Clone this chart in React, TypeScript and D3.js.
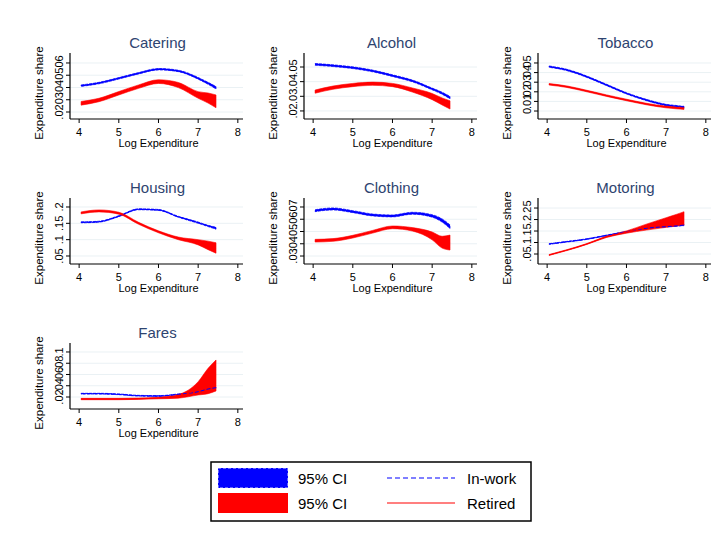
import { useEffect, useRef } from "react";
import * as d3 from "d3";

// log expenditure grid the smoothed curves were read at
const logExp = [4.05, 4.5, 5, 5.5, 6, 6.5, 7, 7.25, 7.45];

const categories = ["Catering", "Alcohol", "Tobacco", "Housing", "Clothing", "Motoring", "Fares"];

// y tick values per panel
const cateringTicks = [0.02, 0.03, 0.04, 0.05, 0.06];
const alcoholTicks = [0.02, 0.03, 0.04, 0.05];
const tobaccoTicks = [0, 0.01, 0.02, 0.03, 0.04, 0.05];
const housingTicks = [0.05, 0.1, 0.15, 0.2];
const clothingTicks = [0.03, 0.04, 0.05, 0.06, 0.07];
const motoringTicks = [0.05, 0.1, 0.15, 0.2, 0.25];
const faresTicks = [0.02, 0.04, 0.06, 0.08, 0.1];

// y axis range per panel
const cateringRange = [0.0143, 0.0665];
const alcoholRange = [0.0145, 0.0582];
const tobaccoRange = [-0.0083, 0.0583];
const housingRange = [0.0255, 0.2214];
const clothingRange = [0.0235, 0.0757];
const motoringRange = [0.0065, 0.285];
const faresRange = [-0.0013, 0.1124];

// 95% CI bounds, in-work households
const cateringWorkLo = [0.0409, 0.043, 0.0469, 0.051, 0.0543, 0.0529, 0.0468, 0.0426, 0.0388];
const cateringWorkHi = [0.0421, 0.0442, 0.0481, 0.0522, 0.0555, 0.0541, 0.0482, 0.0442, 0.0408];
const alcoholWorkLo = [0.0512, 0.0503, 0.0489, 0.0467, 0.0435, 0.0399, 0.0344, 0.0314, 0.0283];
const alcoholWorkHi = [0.0524, 0.0515, 0.0501, 0.0479, 0.0447, 0.0411, 0.0356, 0.0328, 0.0299];
const tobaccoWorkLo = [0.0455, 0.042, 0.035, 0.0264, 0.0177, 0.0108, 0.0056, 0.0044, 0.0035];
const tobaccoWorkHi = [0.0469, 0.0434, 0.0364, 0.0278, 0.0191, 0.0122, 0.007, 0.0058, 0.0049];
const housingWorkLo = [0.1515, 0.1535, 0.1705, 0.1915, 0.1895, 0.1685, 0.15, 0.14, 0.132];
const housingWorkHi = [0.1545, 0.1565, 0.1735, 0.1945, 0.1925, 0.1715, 0.154, 0.144, 0.138];
const clothingWorkLo = [0.0662, 0.0676, 0.0654, 0.0627, 0.0619, 0.0641, 0.0617, 0.0577, 0.0524];
const clothingWorkHi = [0.0678, 0.0692, 0.067, 0.0643, 0.0635, 0.0657, 0.0637, 0.0603, 0.0554];
const motoringWorkLo = [0.092, 0.102, 0.1135, 0.1295, 0.1455, 0.1605, 0.1675, 0.1705, 0.1735];
const motoringWorkHi = [0.095, 0.105, 0.1165, 0.1325, 0.1485, 0.1635, 0.1705, 0.1735, 0.1785];
const faresWorkLo = [0.0252, 0.0252, 0.0241, 0.0216, 0.0211, 0.0241, 0.0286, 0.0333, 0.0355];
const faresWorkHi = [0.0266, 0.0266, 0.0255, 0.023, 0.0225, 0.0255, 0.0302, 0.0351, 0.0377];

// 95% CI bounds, retired households
const cateringRetLo = [0.0256, 0.0284, 0.0339, 0.0393, 0.0433, 0.0399, 0.0312, 0.0273, 0.0235];
const cateringRetHi = [0.0286, 0.0312, 0.0367, 0.0421, 0.0463, 0.0441, 0.0366, 0.0355, 0.0339];
const alcoholRetLo = [0.0321, 0.0348, 0.0366, 0.0375, 0.0366, 0.0329, 0.0277, 0.0241, 0.0213];
const alcoholRetHi = [0.0343, 0.037, 0.0388, 0.0397, 0.0388, 0.0357, 0.0319, 0.0289, 0.0269];
const tobaccoRetLo = [0.027, 0.0245, 0.02, 0.0152, 0.0107, 0.0065, 0.0033, 0.0023, 0.0017];
const tobaccoRetHi = [0.0286, 0.0261, 0.0216, 0.0168, 0.0123, 0.0081, 0.0051, 0.0043, 0.0039];
const housingRetLo = [0.179, 0.185, 0.178, 0.147, 0.121, 0.1, 0.084, 0.0695, 0.0585];
const housingRetHi = [0.185, 0.191, 0.184, 0.153, 0.127, 0.108, 0.1, 0.0955, 0.0905];
const clothingRetLo = [0.0414, 0.042, 0.0447, 0.0487, 0.0523, 0.0504, 0.0432, 0.0365, 0.0349];
const clothingRetHi = [0.0436, 0.0442, 0.0469, 0.0509, 0.0545, 0.0532, 0.0496, 0.0461, 0.0471];
const motoringRetLo = [0.0437, 0.065, 0.0915, 0.122, 0.1405, 0.154, 0.166, 0.172, 0.176];
const motoringRetHi = [0.0477, 0.069, 0.0955, 0.128, 0.1505, 0.18, 0.208, 0.222, 0.234];
const faresRetLo = [0.0152, 0.0152, 0.0152, 0.0158, 0.0168, 0.018, 0.0236, 0.0259, 0.0307];
const faresRetHi = [0.0176, 0.0176, 0.0176, 0.0182, 0.0196, 0.0245, 0.0472, 0.071, 0.0858];

const xTicks = [4, 5, 6, 7, 8];

const panels = [
  { ticks: cateringTicks, range: cateringRange, wLo: cateringWorkLo, wHi: cateringWorkHi, rLo: cateringRetLo, rHi: cateringRetHi },
  { ticks: alcoholTicks, range: alcoholRange, wLo: alcoholWorkLo, wHi: alcoholWorkHi, rLo: alcoholRetLo, rHi: alcoholRetHi },
  { ticks: tobaccoTicks, range: tobaccoRange, wLo: tobaccoWorkLo, wHi: tobaccoWorkHi, rLo: tobaccoRetLo, rHi: tobaccoRetHi },
  { ticks: housingTicks, range: housingRange, wLo: housingWorkLo, wHi: housingWorkHi, rLo: housingRetLo, rHi: housingRetHi },
  { ticks: clothingTicks, range: clothingRange, wLo: clothingWorkLo, wHi: clothingWorkHi, rLo: clothingRetLo, rHi: clothingRetHi },
  { ticks: motoringTicks, range: motoringRange, wLo: motoringWorkLo, wHi: motoringWorkHi, rLo: motoringRetLo, rHi: motoringRetHi },
  { ticks: faresTicks, range: faresRange, wLo: faresWorkLo, wHi: faresWorkHi, rLo: faresRetLo, rHi: faresRetHi },
];

const FONT = "'Liberation Sans', Arial, sans-serif";
const BLUE = "#0000ff";
const RED = "#ff0000";

export default function App() {
  const ref = useRef<SVGSVGElement>(null);

  useEffect(() => {
    const svg = d3.select(ref.current);
    svg.selectAll("*").remove();

    svg.append("rect").attr("width", 725).attr("height", 533).attr("fill", "#fff");

    panels.forEach((p, i) => {
      const col = i % 3;
      const row = Math.floor(i / 3);
      const left = 70 + col * 234;
      const right = left + 173;
      const top = 55 + row * 145;
      const bottom = top + 64;

      const x = d3.scaleLinear().domain([3.77, 8.13]).range([left, right]);
      const y = d3.scaleLinear().domain(p.range).range([bottom, top]);

      const g = svg.append("g");

      // gridlines
      g.selectAll(".grid")
        .data(p.ticks)
        .join("line")
        .attr("x1", left)
        .attr("x2", right)
        .attr("y1", (d) => y(d))
        .attr("y2", (d) => y(d))
        .attr("stroke", "#eaf1f4")
        .attr("stroke-width", 1);

      const band = (lo: number[], hi: number[]) =>
        d3.area<number>()
          .x((d) => x(d))
          .y0((d, j) => y(lo[j]))
          .y1((d, j) => y(hi[j]))
          .curve(d3.curveMonotoneX)(logExp);

      const mid = (lo: number[], hi: number[]) =>
        d3.line<number>()
          .x((d) => x(d))
          .y((d, j) => y((lo[j] + hi[j]) / 2))
          .curve(d3.curveMonotoneX)(logExp);

      g.append("path")
        .attr("d", band(p.wLo, p.wHi))
        .attr("fill", BLUE)
        .attr("stroke", BLUE)
        .attr("stroke-width", 0.7)
        .attr("stroke-dasharray", "3 1");

      g.append("path")
        .attr("d", band(p.rLo, p.rHi))
        .attr("fill", RED)
        .attr("stroke", RED)
        .attr("stroke-width", 0.6);

      g.append("path")
        .attr("d", mid(p.wLo, p.wHi))
        .attr("fill", "none")
        .attr("stroke", BLUE)
        .attr("stroke-width", 1)
        .attr("stroke-dasharray", "4 2");

      g.append("path")
        .attr("d", mid(p.rLo, p.rHi))
        .attr("fill", "none")
        .attr("stroke", RED)
        .attr("stroke-width", 1);

      // axes
      g.append("line")
        .attr("x1", left).attr("x2", left)
        .attr("y1", top - 2).attr("y2", bottom)
        .attr("stroke", "#000").attr("stroke-width", 1.2);
      g.append("line")
        .attr("x1", left).attr("x2", right)
        .attr("y1", bottom).attr("y2", bottom)
        .attr("stroke", "#000").attr("stroke-width", 1.2);

      g.selectAll(".yt")
        .data(p.ticks)
        .join("line")
        .attr("x1", left - 4).attr("x2", left)
        .attr("y1", (d) => y(d)).attr("y2", (d) => y(d))
        .attr("stroke", "#000");

      g.selectAll(".ytl")
        .data(p.ticks)
        .join("text")
        .attr("transform", (d) => `translate(${left - 7},${y(d)}) rotate(-90)`)
        .attr("text-anchor", "middle")
        .attr("font-family", FONT)
        .attr("font-size", 11)
        .attr("fill", "#000")
        .text((d) => (d === 0 ? "0" : d3.format(".2~f")(d).replace(/^0/, "")));

      g.selectAll(".xt")
        .data(xTicks)
        .join("line")
        .attr("x1", (d) => x(d)).attr("x2", (d) => x(d))
        .attr("y1", bottom).attr("y2", bottom + 4)
        .attr("stroke", "#000");

      g.selectAll(".xtl")
        .data(xTicks)
        .join("text")
        .attr("x", (d) => x(d))
        .attr("y", bottom + 17)
        .attr("text-anchor", "middle")
        .attr("font-family", FONT)
        .attr("font-size", 11)
        .attr("fill", "#000")
        .text((d) => d);

      g.append("text")
        .attr("x", x(6))
        .attr("y", bottom + 28)
        .attr("text-anchor", "middle")
        .attr("font-family", FONT)
        .attr("font-size", 11)
        .attr("fill", "#000")
        .text("Log Expenditure");

      g.append("text")
        .attr("transform", `translate(${left - 27},${(top + bottom) / 2 + 6}) rotate(-90)`)
        .attr("text-anchor", "middle")
        .attr("font-family", FONT)
        .attr("font-size", 11.5)
        .attr("fill", "#000")
        .text("Expenditure share");

      g.append("text")
        .attr("x", x(6) - 1)
        .attr("y", top - 7)
        .attr("text-anchor", "middle")
        .attr("font-family", FONT)
        .attr("font-size", 15)
        .attr("fill", "#2e4470")
        .text(categories[i]);
    });

    // legend
    const lg = svg.append("g");
    lg.append("rect")
      .attr("x", 211).attr("y", 462).attr("width", 320).attr("height", 59)
      .attr("fill", "#fff").attr("stroke", "#000").attr("stroke-width", 1.5);
    lg.append("rect")
      .attr("x", 218).attr("y", 468).attr("width", 70).attr("height", 20)
      .attr("fill", BLUE).attr("stroke", "#fff").attr("stroke-dasharray", "3 2").attr("stroke-width", 0.8);
    lg.append("rect")
      .attr("x", 218).attr("y", 493).attr("width", 70).attr("height", 20)
      .attr("fill", RED);
    lg.append("line")
      .attr("x1", 387).attr("x2", 455).attr("y1", 478).attr("y2", 478)
      .attr("stroke", BLUE).attr("stroke-width", 1.2).attr("stroke-dasharray", "5 3");
    lg.append("line")
      .attr("x1", 387).attr("x2", 455).attr("y1", 503).attr("y2", 503)
      .attr("stroke", RED).attr("stroke-width", 1.2);
    const labels = [
      ["95% CI", 298, 484],
      ["95% CI", 298, 509],
      ["In-work", 467, 484],
      ["Retired", 467, 509],
    ];
    lg.selectAll(".ll")
      .data(labels)
      .join("text")
      .attr("x", (d) => d[1] as number)
      .attr("y", (d) => d[2] as number)
      .attr("font-family", FONT)
      .attr("font-size", 15)
      .attr("fill", "#000")
      .text((d) => d[0] as string);
  }, []);

  return <svg ref={ref} width={725} height={533} style={{ display: "block", margin: -8 }} />;
}
